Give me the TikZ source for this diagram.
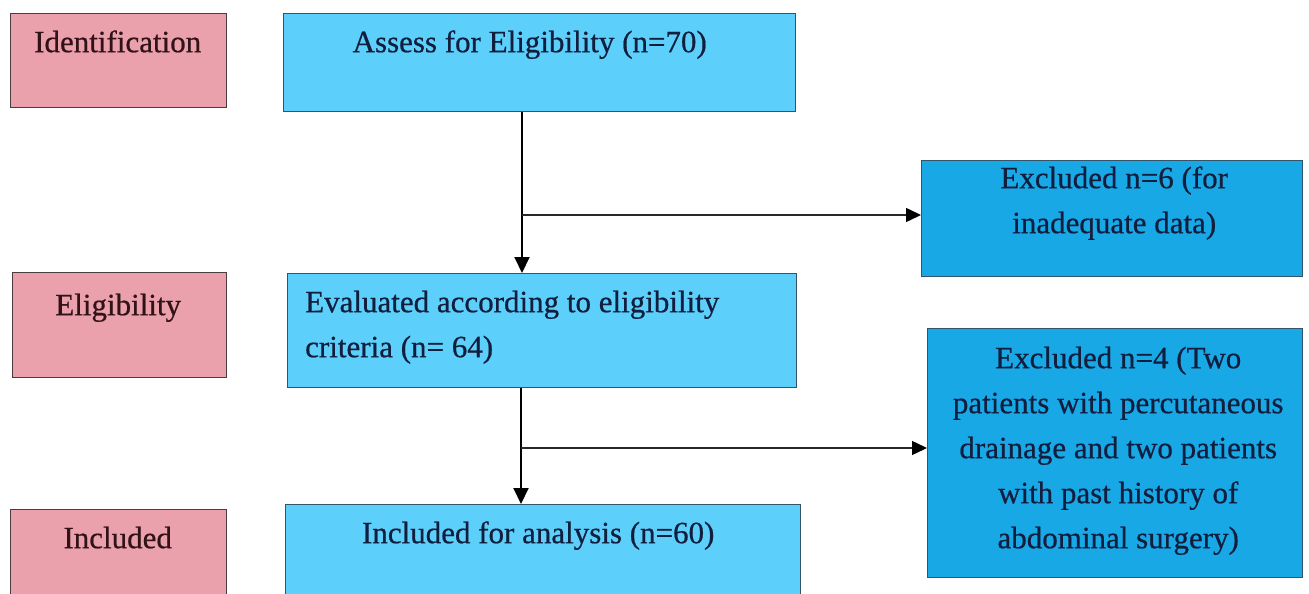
\documentclass[tikz,border=0pt]{standalone}
\usepackage{fontspec}
\setmainfont[FakeBold=0.6]{Liberation Serif}
\usetikzlibrary{arrows.meta,calc}
\definecolor{pinkfill}{RGB}{234,161,172}
\definecolor{lightblue}{RGB}{92,208,250}
\definecolor{darkblue}{RGB}{25,168,230}
\definecolor{pinkline}{RGB}{75,60,65}
\definecolor{blueline}{RGB}{50,85,105}
\definecolor{bluetext}{RGB}{18,30,62}
\definecolor{pinktext}{RGB}{50,18,25}
\definecolor{branchgray}{RGB}{40,40,40}
\tikzset{
  box/.style={draw, line width=1.4pt, inner sep=0pt, anchor=north west},
  stagebox/.style={box, fill=pinkfill, draw=pinkline},
  lbox/.style={box, fill=lightblue, draw=blueline},
  dbox/.style={box, fill=darkblue, draw=blueline},
  txt/.style={font=\fontsize{31}{45}\selectfont, inner sep=0pt, anchor=north, align=center},
  stagetxt/.style={txt, text=pinktext},
  bluetxt/.style={txt, text=bluetext},
  vflow/.style={draw=black, line width=2pt, -{Triangle[length=16pt,width=15pt]}},
  hflow/.style={draw=branchgray, line width=1.5pt, -{Triangle[length=15pt,width=14pt,fill=black,color=black]}}
}
\begin{document}
\begin{tikzpicture}[x=1pt,y=-1pt]
\useasboundingbox (0,0) rectangle (1309,594);
\clip (0,0) rectangle (1309,594);
% stage labels
\node[stagebox, minimum width=216pt, minimum height=94pt] (ident) at (10,13) {};
\node[stagebox, minimum width=214pt, minimum height=105pt] (elig) at (12,272) {};
\node[stagebox, minimum width=216pt, minimum height=110pt] (incl) at (10,509) {};
\node[stagetxt] (identT) at ($(ident.north)+(-1,7.5)$) {\strut Identification};
\node[stagetxt] (eligT) at ($(elig.north)+(-1.5,11.5)$) {\strut Eligibility};
\node[stagetxt] (inclT) at ($(incl.north)+(-1,7.5)$) {\strut Included};
% flow boxes
\node[lbox, minimum width=512pt, minimum height=98pt] (assess) at (283,13) {};
\node[lbox, minimum width=509pt, minimum height=114pt] (eval) at (287,273) {};
\node[lbox, minimum width=515pt, minimum height=110pt] (analysis) at (285,504) {};
\node[dbox, minimum width=381pt, minimum height=116pt] (exclA) at (921,160) {};
\node[dbox, minimum width=375pt, minimum height=249pt] (exclB) at (927,328) {};
% texts
\node[bluetxt] (assessT) at ($(assess.north)+(-10,7.5)$) {\strut Assess for Eligibility (n=70)};
\node[bluetxt, anchor=north west, align=left] (evalT) at ($(eval.north west)+(18,7.5)$) {\strut Evaluated according to eligibility\\\strut criteria (n= 64)};
\node[bluetxt] (analysisT) at ($(analysis.north)+(-5,7.5)$) {\strut Included for analysis (n=60)};
\node[bluetxt] (exclAT) at ($(exclA.north)+(2,-3.5)$) {\strut Excluded n=6 (for\\\strut inadequate data)};
\node[bluetxt] (exclBT) at ($(exclB.north)+(3,8.5)$) {\strut Excluded n=4 (Two\\\strut patients with percutaneous\\\strut drainage and two patients\\\strut with past history of\\\strut abdominal surgery)};
% connectors
\coordinate (b1) at (522,215);
\coordinate (b2) at (521,448);
\draw[vflow] (assess.south -| b1) -- (eval.north -| b1);
\draw[hflow] (b1) -- (exclA.west |- b1);
\draw[vflow] (eval.south -| b2) -- (analysis.north -| b2);
\draw[hflow] (b2) -- (exclB.west |- b2);
\end{tikzpicture}
\end{document}
